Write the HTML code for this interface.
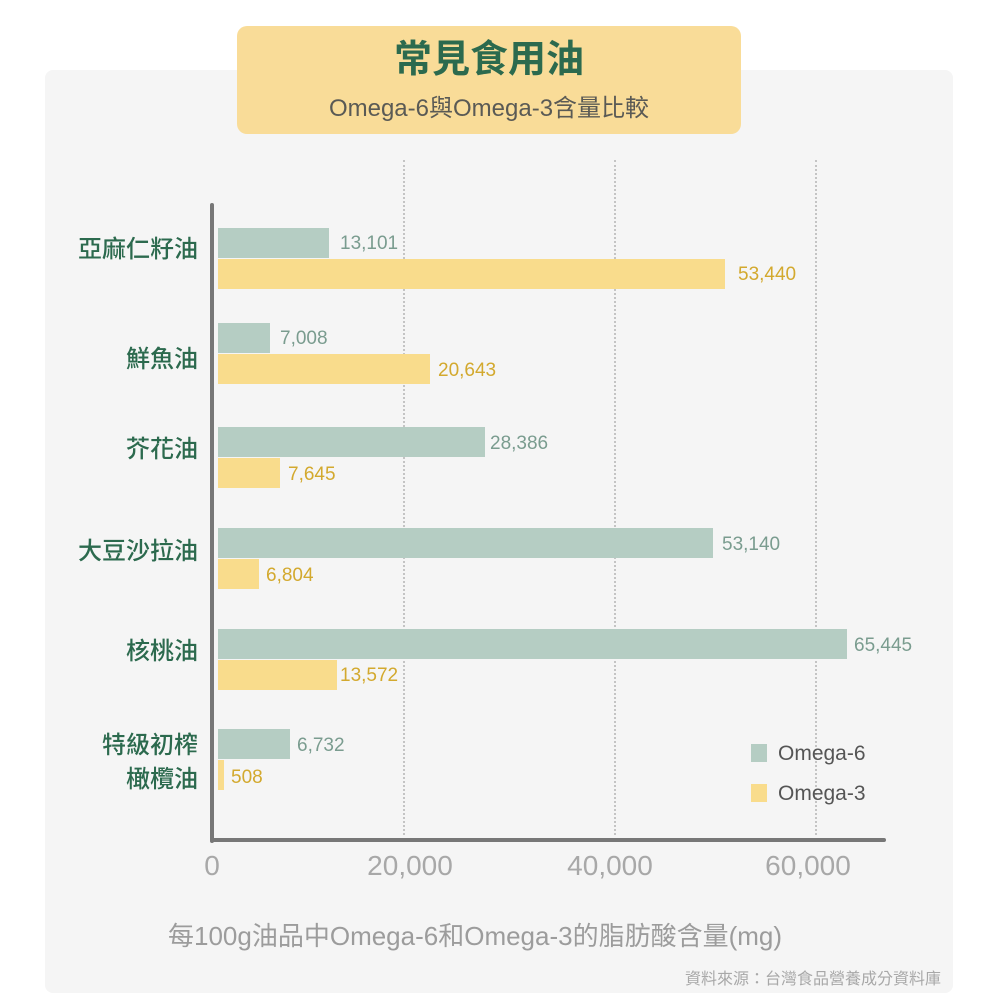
<!DOCTYPE html>
<html><head><meta charset="utf-8"><style>
body{margin:0;width:1000px;height:1000px;background:#fff;position:relative;overflow:hidden;font-family:"Liberation Sans","Noto Sans CJK TC",sans-serif}
.a{position:absolute}
.g{background:#b5cdc3}.y{background:#f9dc8c}
.lg{color:#7a9c8f;font-size:19px}.ly{color:#d3a92e;font-size:19px}
.cat{position:absolute;right:802px;color:#2c6a4e;font-size:24px;font-weight:500;text-align:right;line-height:34px;font-family:"Noto Sans CJK TC",sans-serif}
.tk{position:absolute;top:850px;color:#a8a8a8;font-size:28px;transform:translateX(-50%)}
.grid{position:absolute;top:160px;height:675px;border-left:2px dotted #c4c4c4}
</style></head><body>
<div class="a" style="left:45px;top:70px;width:908px;height:923px;background:#f5f5f5;border-radius:8px"></div>
<div class="a" style="left:237px;top:26px;width:504px;height:108px;background:#f9dc98;border-radius:10px;text-align:center">
<div style="color:#2c6a4e;font-size:38px;font-weight:bold;margin-top:12px;line-height:44px">常見食用油</div>
<div style="color:#5a5a55;font-size:24px;margin-top:6px">Omega-6與Omega-3含量比較</div></div>
<div class="grid" style="left:403px"></div><div class="grid" style="left:614px"></div><div class="grid" style="left:815px"></div>
<div class="a" style="left:210px;top:203px;width:4px;height:640px;background:#777;border-radius:2px"></div>
<div class="a" style="left:210px;top:838px;width:676px;height:4px;background:#777;border-radius:2px"></div>

<div class="a g" style="left:218px;top:228px;width:111px;height:30px"></div><div class="a lg" style="left:340px;top:233px">13,101</div>
<div class="a y" style="left:218px;top:259px;width:507px;height:30px"></div><div class="a ly" style="left:738px;top:264px">53,440</div>
<div class="a g" style="left:218px;top:323px;width:52px;height:30px"></div><div class="a lg" style="left:280px;top:328px">7,008</div>
<div class="a y" style="left:218px;top:354px;width:212px;height:30px"></div><div class="a ly" style="left:438px;top:360px">20,643</div>
<div class="a g" style="left:218px;top:427px;width:267px;height:30px"></div><div class="a lg" style="left:490px;top:433px">28,386</div>
<div class="a y" style="left:218px;top:458px;width:62px;height:30px"></div><div class="a ly" style="left:288px;top:464px">7,645</div>
<div class="a g" style="left:218px;top:528px;width:495px;height:30px"></div><div class="a lg" style="left:722px;top:534px">53,140</div>
<div class="a y" style="left:218px;top:559px;width:41px;height:30px"></div><div class="a ly" style="left:266px;top:565px">6,804</div>
<div class="a g" style="left:218px;top:629px;width:629px;height:30px"></div><div class="a lg" style="left:854px;top:635px">65,445</div>
<div class="a y" style="left:218px;top:660px;width:119px;height:30px"></div><div class="a ly" style="left:340px;top:665px">13,572</div>
<div class="a g" style="left:218px;top:729px;width:72px;height:30px"></div><div class="a lg" style="left:297px;top:735px">6,732</div>
<div class="a y" style="left:218px;top:760px;width:6px;height:30px"></div><div class="a ly" style="left:231px;top:767px">508</div>

<div class="cat" style="top:230px">亞麻仁籽油</div>
<div class="cat" style="top:340px">鮮魚油</div>
<div class="cat" style="top:430px">芥花油</div>
<div class="cat" style="top:532px">大豆沙拉油</div>
<div class="cat" style="top:632px">核桃油</div>
<div class="cat" style="top:726px">特級初榨<br>橄欖油</div>

<div class="tk" style="left:212px">0</div><div class="tk" style="left:410px">20,000</div>
<div class="tk" style="left:610px">40,000</div><div class="tk" style="left:808px">60,000</div>

<div class="a g" style="left:751px;top:744px;width:16px;height:18px"></div><div class="a" style="left:778px;top:742px;font-size:21px;color:#555">Omega-6</div>
<div class="a y" style="left:751px;top:784px;width:16px;height:18px"></div><div class="a" style="left:778px;top:782px;font-size:21px;color:#555">Omega-3</div>

<div class="a" style="left:168px;top:916px;font-size:26px;color:#9c9c9c;white-space:nowrap">每100g油品中Omega-6和Omega-3的脂肪酸含量(mg)</div>
<div class="a" style="left:685px;top:965px;font-size:16px;color:#a8a8a8;white-space:nowrap">資料來源：台灣食品營養成分資料庫</div>
</body></html>
